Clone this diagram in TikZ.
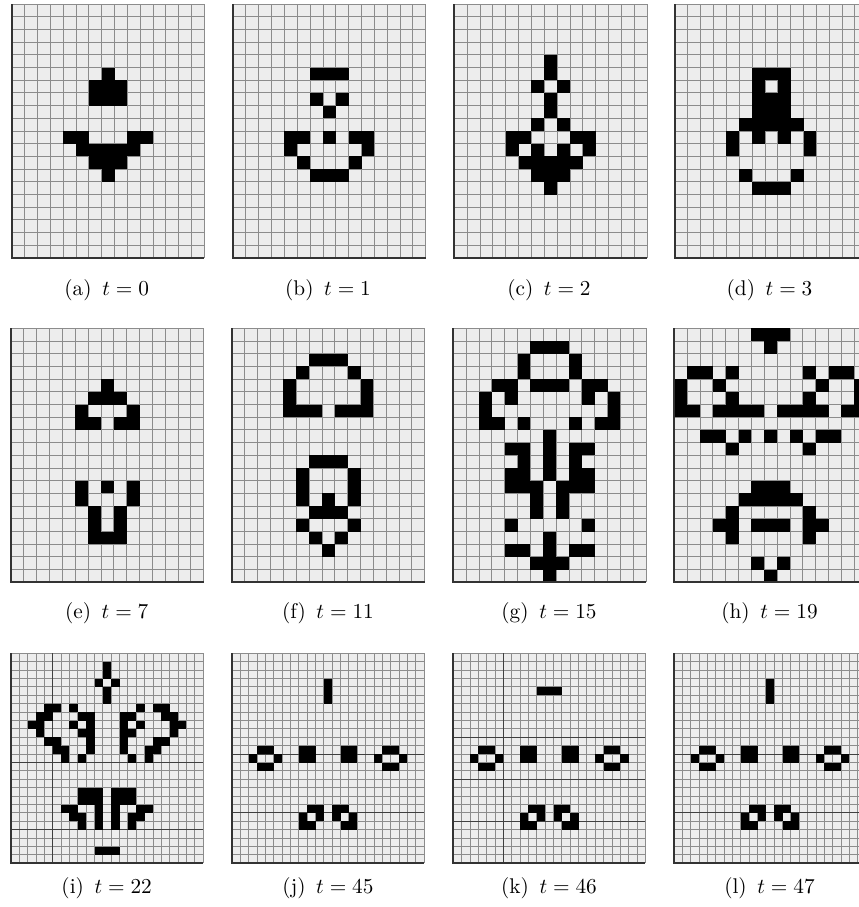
\documentclass[tikz,border=0pt]{standalone}
\usepackage{xcolor}

% empty board of \ncol x \nrow cells
\newcommand\lifegrid{%
  \fill[cellbg] (0,0) rectangle (\ncol*\cellw,\nrow*\cellh);
  \foreach \i in {0,...,\ncol} \draw[gridline] (\i*\cellw,0) -- (\i*\cellw,\nrow*\cellh);
  \foreach \j in {0,...,\nrow} \draw[gridline] (0,\j*\cellh) -- (\ncol*\cellw,\j*\cellh);
}
% live cells, given as row/{columns}
\newcommand\lifecells[1]{%
  \foreach \rr/\rowcells in {#1}{%
    \foreach \cc in \rowcells {\fill[alive] (\cc*\cellw,\rr*\cellh) rectangle ++(\cellw,\cellh);}}%
  \draw[paneledge] (0,0) -- (0,\nrow*\cellh) -- (\ncol*\cellw,\nrow*\cellh);
}

\begin{document}
\begin{tikzpicture}[x=0.47pt, y=-0.47pt,
    cellbg/.style={fill=black!7},
    gridline/.style={draw=black!45, line width=0.4pt},
    majorline/.style={draw=black!75, line width=0.5pt},
    paneledge/.style={draw=black!80, line width=0.9pt},
    alive/.style={fill=black},
    subcap/.style={anchor=base, inner sep=0pt, font=\normalsize},
    bigcells/.code={\def\ncol{15}\def\nrow{20}\def\cellw{12.85}\def\cellh{12.7}},
    smallcells/.code={\def\ncol{23}\def\nrow{25}\def\cellw{8.35}\def\cellh{8.4}}
]
    \useasboundingbox (0,0) rectangle (859,907);
    \clip (0,0) rectangle (859,907);

    % first row
    \begin{scope}[bigcells, shift={(11.7,4)}]
        \lifegrid
        \lifecells{5/{7},6/{6,7,8},7/{6,7,8},10/{4,5,9,10},11/{5,6,7,8,9},12/{6,7,8},13/{7}}
    \end{scope}
    \begin{scope}[bigcells, shift={(233,4)}]
        \lifegrid
        \lifecells{5/{6,7,8},7/{6,8},8/{7},10/{4,5,7,9,10},11/{4,10},12/{5,9},13/{6,7,8}}
    \end{scope}
    \begin{scope}[bigcells, shift={(454.3,4)}]
        \lifegrid
        \lifecells{4/{7},5/{7},6/{6,8},7/{7},8/{7},9/{6,8},10/{4,5,9,10},11/{4,6,8,10},12/{5,6,7,8,9},13/{6,7,8},14/{7}}
    \end{scope}
    \begin{scope}[bigcells, shift={(675,4)}]
        \lifegrid
        \lifecells{5/{6,7,8},6/{6,8},7/{6,7,8},8/{6,7,8},9/{5,6,7,8,9},10/{4,6,8,10},11/{4,10},13/{5,9},14/{6,7,8}}
    \end{scope}
    \node[subcap] (capa) at (106.7,295) {(a)\enspace$t=0$};
    \node[subcap] (capb) at (328,295) {(b)\enspace$t=1$};
    \node[subcap] (capc) at (549,295) {(c)\enspace$t=2$};
    \node[subcap] (capd) at (769.5,295) {(d)\enspace$t=3$};

    % second row
    \begin{scope}[bigcells, shift={(11,328.3)}]
        \lifegrid
        \lifecells{4/{7},5/{6,7,8},6/{5,9},7/{5,6,8,9},12/{5,7,9},13/{5,9},14/{6,8},15/{6,8},16/{6,7,8}}
    \end{scope}
    \begin{scope}[bigcells, shift={(232,328.3)}]
        \lifegrid
        \lifecells{2/{6,7,8},3/{5,9},4/{4,10},5/{4,10},6/{4,5,6,8,9,10},10/{6,7,8},11/{5,9},12/{5,9},13/{5,7,9},14/{6,7,8},15/{5,9},16/{6,8},17/{7}}
    \end{scope}
    \begin{scope}[bigcells, shift={(453.3,328.3)}]
        \lifegrid
        \lifecells{1/{6,7,8},2/{5,9},3/{5,9},4/{3,4,6,7,8,10,11},5/{2,4,10,12},6/{2,12},7/{2,3,5,9,11,12},8/{7},9/{4,5,7,9,10},10/{5,7,9},11/{4,5,7,9,10},12/{4,5,6,8,9,10},13/{6,8},14/{6,8},15/{4,10},16/{7},17/{4,5,7,9,10},18/{6,7,8},19/{7}}
    \end{scope}
    \begin{scope}[bigcells, shift={(674.3,328.3)}]
        \lifegrid
        \lifecells{0/{6,7,8},1/{7},3/{1,2,4,10,12,13},4/{0,3,11,14},5/{0,4,10,14},6/{0,1,3,4,5,6,8,9,10,11,13,14},8/{2,3,5,7,9,11,12},9/{4,10},12/{6,7,8},13/{5,6,7,8,9},14/{4,10},15/{3,4,6,7,8,10,11},16/{4,10},18/{6,8},19/{7}}
    \end{scope}
    \node[subcap] (cape) at (106.7,618) {(e)\enspace$t=7$};
    \node[subcap] (capf) at (328,618) {(f)\enspace$t=11$};
    \node[subcap] (capg) at (549,618) {(g)\enspace$t=15$};
    \node[subcap] (caph) at (769.5,618) {(h)\enspace$t=19$};

    % third row
    \begin{scope}[smallcells, shift={(11,653.3)}]
        \lifegrid
        \draw[majorline] (5*\cellw,0) -- (5*\cellw,\nrow*\cellh);
        \draw[majorline] (0,13*\cellh) -- (\ncol*\cellw,13*\cellh);
        \draw[majorline] (0,21*\cellh) -- (\ncol*\cellw,21*\cellh);
        \lifecells{1/{11},2/{11},3/{10,12},4/{11},5/{11},6/{4,5,7,15,17,18},7/{3,4,8,9,13,14,18,19},8/{2,3,7,9,13,15,19,20},9/{3,8,9,13,14,19},10/{4,5,9,13,17,18},11/{5,6,9,13,16,17},12/{6,8,14,16},16/{8,9,10,12,13,14},17/{8,9,10,12,13,14},18/{6,7,10,12,15,16},19/{7,8,10,12,14,15},20/{8,10,12,14},23/{10,11,12}}
    \end{scope}
    \begin{scope}[smallcells, shift={(232,653.3)}]
        \lifegrid
        \draw[majorline] (0,12*\cellh) -- (\ncol*\cellw,12*\cellh);
        \draw[majorline] (0,19*\cellh) -- (\ncol*\cellw,19*\cellh);
        \lifecells{3/{11},4/{11},5/{11},11/{3,4,8,9,13,14,18,19},12/{2,5,8,9,13,14,17,20},13/{3,4,18,19},18/{9,10,12,13},19/{8,10,12,14},20/{8,9,13,14}}
    \end{scope}
    \begin{scope}[smallcells, shift={(453.3,653.3)}]
        \lifegrid
        \draw[majorline] (6*\cellw,0) -- (6*\cellw,\nrow*\cellh);
        \draw[majorline] (0,10*\cellh) -- (\ncol*\cellw,10*\cellh);
        \draw[majorline] (0,15*\cellh) -- (\ncol*\cellw,15*\cellh);
        \draw[majorline] (0,20*\cellh) -- (\ncol*\cellw,20*\cellh);
        \lifecells{4/{10,11,12},11/{3,4,8,9,13,14,18,19},12/{2,5,8,9,13,14,17,20},13/{3,4,18,19},18/{9,10,12,13},19/{8,10,12,14},20/{8,9,13,14}}
    \end{scope}
    \begin{scope}[smallcells, shift={(674,653.3)}]
        \lifegrid
        \draw[majorline] (0,12*\cellh) -- (\ncol*\cellw,12*\cellh);
        \draw[majorline] (0,19*\cellh) -- (\ncol*\cellw,19*\cellh);
        \lifecells{3/{11},4/{11},5/{11},11/{3,4,8,9,13,14,18,19},12/{2,5,8,9,13,14,17,20},13/{3,4,18,19},18/{9,10,12,13},19/{8,10,12,14},20/{8,9,13,14}}
    \end{scope}
    \node[subcap] (capi) at (106.7,893) {(i)\enspace$t=22$};
    \node[subcap] (capj) at (328,893) {(j)\enspace$t=45$};
    \node[subcap] (capk) at (549,893) {(k)\enspace$t=46$};
    \node[subcap] (capl) at (769.5,893) {(l)\enspace$t=47$};
\end{tikzpicture}
\end{document}
